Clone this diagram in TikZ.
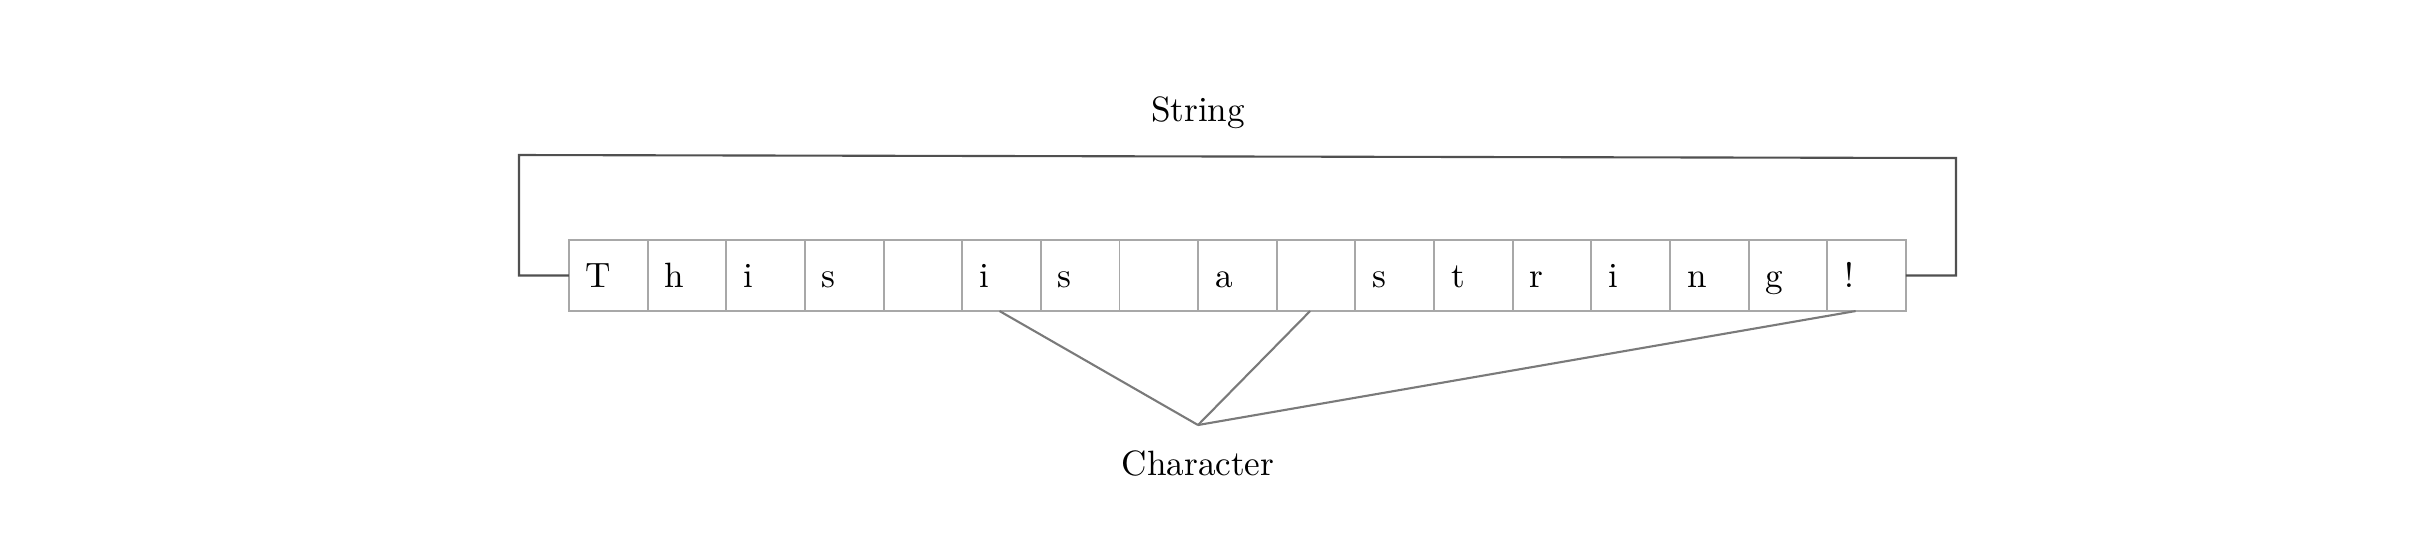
\documentclass[tikz,border=0pt]{standalone}
\usetikzlibrary{positioning}
\definecolor{gridgray}{HTML}{A8A8A8}
\definecolor{bracegray}{HTML}{505050}
\definecolor{pointgray}{HTML}{7A7A7A}
\tikzset{
  cell/.style={draw=gridgray, line width=0.55pt, outer sep=0pt, inner xsep=0.17cm,
    text width=0.446cm, align=left, minimum height=0.71cm,
    text height=1.8ex, text depth=0.2ex},
  brace/.style={draw=bracegray, line width=0.6pt},
  pointer/.style={draw=pointgray, line width=0.6pt},
  label/.style={inner sep=0pt},
}

\begin{document}
\begin{tikzpicture}[x=0.01cm,y=-0.01cm,node distance=0 and 0]
  \useasboundingbox (0,0) rectangle (2424,550);

  \node[cell] at (608.3,275.5) (c1) {T};
  \node[cell,right=0 of c1] (c2) {h};
  \node[cell,right=0 of c2] (c3) {i};
  \node[cell,right=0 of c3] (c4) {s};
  \node[cell,right=0 of c4] (c5) {};
  \node[cell,right=0 of c5] (c6) {i};
  \node[cell,right=0 of c6] (c7) {s};
  \node[cell,right=0 of c7] (c8) {};
  \node[cell,right=0 of c8] (c9) {a};
  \node[cell,right=0 of c9] (c10) {};
  \node[cell,right=0 of c10] (c11) {s};
  \node[cell,right=0 of c11] (c12) {t};
  \node[cell,right=0 of c12] (c13) {r};
  \node[cell,right=0 of c13] (c14) {i};
  \node[cell,right=0 of c14] (c15) {n};
  \node[cell,right=0 of c15] (c16) {g};
  \node[cell,right=0 of c16] (c17) {!};

  \node[label] at (1198,113) (strlbl) {String};
  \coordinate (strbl) at (519,275.5);
  \coordinate (strtl) at (519,155);
  \coordinate (strtr) at (1956,158);
  \coordinate (strbr) at (1956,275.5);
  \draw[brace] (c1.west) -- (strbl) -- (strtl) -- (strtr) -- (strbr) -- (c17.east);

  \node[label] at (1198,463) (charlbl) {Character};
  \coordinate (charv) at (1198,425);
  \draw[pointer] ([xshift=-0.02cm]c6.south) -- (charv);
  \draw[pointer] ([xshift=-0.06cm]c10.south) -- (charv);
  \draw[pointer] ([xshift=-0.11cm]c17.south) -- (charv);

\end{tikzpicture}
\end{document}
